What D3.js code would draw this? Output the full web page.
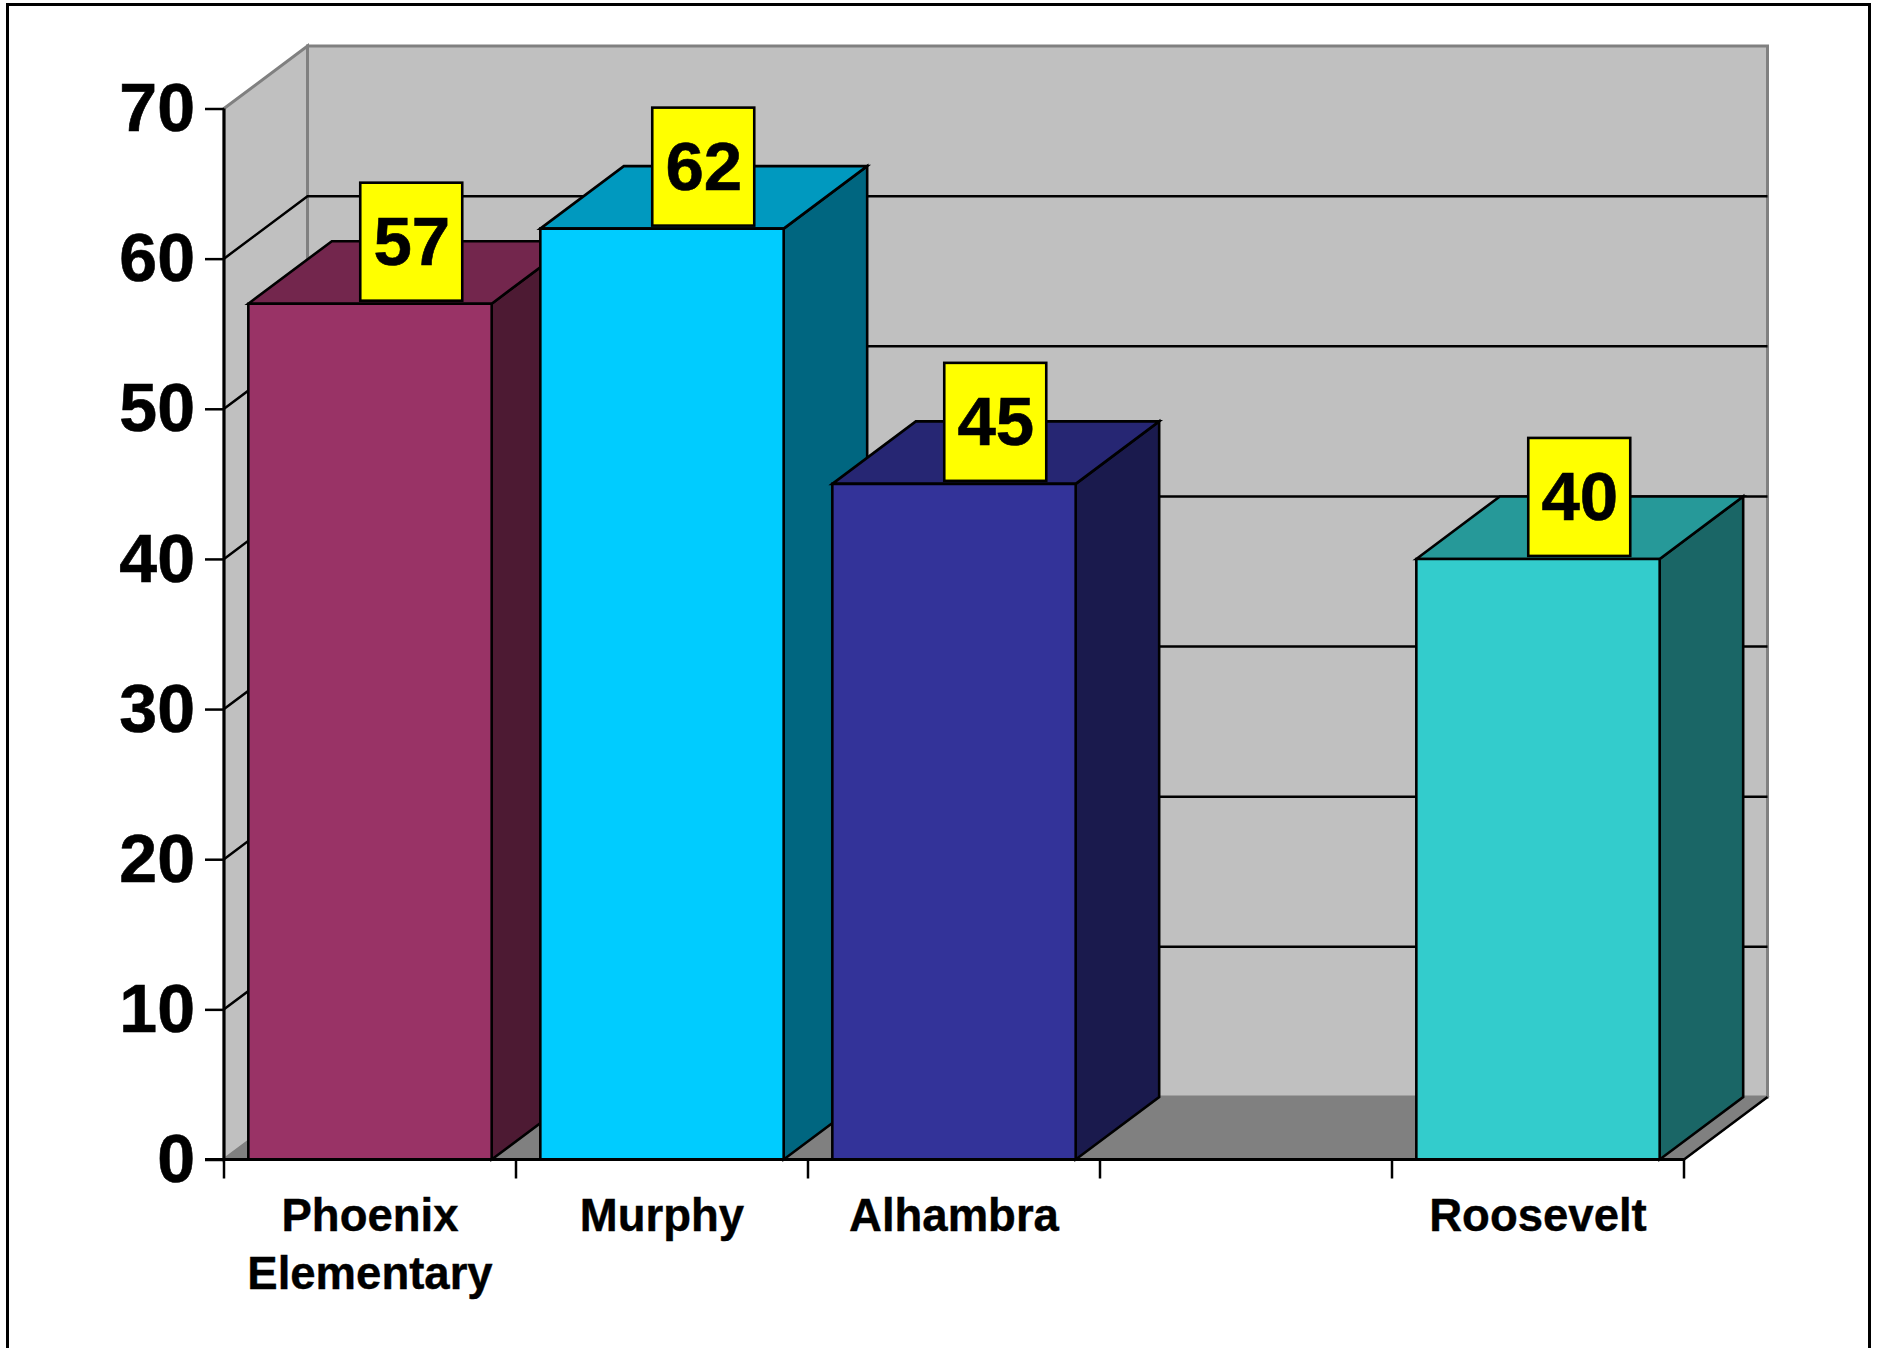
<!DOCTYPE html>
<html>
<head>
<meta charset="utf-8">
<script src="https://cdn.jsdelivr.net/npm/d3@7/dist/d3.min.js"></script>
<style>
  html, body { margin: 0; padding: 0; background: #fff; }
  svg { display: block; }
  text { font-family: "Liberation Sans", Arial, sans-serif; font-weight: 700; fill: #000; }
</style>
</head>
<body>
<svg id="chart" width="1877" height="1348"></svg>
<script>
// School names and their values; the fourth slot is an empty category.
const categories = ["Phoenix Elementary", "Murphy", "Alhambra", "", "Roosevelt"];
const values = [57, 62, 45, null, 40];
const frontColors = ["#993366", "#00CCFF", "#333399", null, "#33CCCC"];
const yTicks = [0, 10, 20, 30, 40, 50, 60, 70];

const svg = d3.select("#chart");

// Plot box on the front plane, and the offset of the back wall from it.
const left = 224, right = 1684, bottom = 1159.5, top70 = 108.5;
const depthX = 83.5, depthY = 62.5;

const x = d3.scaleBand().domain(d3.range(categories.length)).range([left, right]).paddingInner(0).paddingOuter(0);
const y = d3.scaleLinear().domain([0, 70]).range([bottom, top70]);
const barInset = x.bandwidth() * 0.0833;

const back = ([px, py]) => [px + depthX, py - depthY];
const poly = pts => d3.line()(pts) + "Z";

// Outer border, open along the bottom edge
svg.append("path")
  .attr("d", "M7.5,1348V4.5H1869.5V1348")
  .attr("fill", "none").attr("stroke", "#000").attr("stroke-width", 3);

// Walls and floor of the 3D box
const walls = svg.append("g");
const wallStroke = { stroke: "#808080", "stroke-width": 3 };
walls.append("path")
  .attr("d", poly([[left + depthX, y(70) - depthY], [right + depthX, y(70) - depthY], [right + depthX, y(0) - depthY], [left + depthX, y(0) - depthY]]))
  .attr("fill", "#C0C0C0").attr("stroke", wallStroke.stroke).attr("stroke-width", wallStroke["stroke-width"]);
walls.append("path")
  .attr("d", poly([[left, y(70)], [left + depthX, y(70) - depthY], [left + depthX, y(0) - depthY], [left, y(0)]]))
  .attr("fill", "#C0C0C0").attr("stroke", wallStroke.stroke).attr("stroke-width", wallStroke["stroke-width"]);
walls.append("path")
  .attr("d", poly([[left, y(0)], [left + depthX, y(0) - depthY], [right + depthX, y(0) - depthY], [right, y(0)]]))
  .attr("fill", "#808080").attr("stroke", wallStroke.stroke).attr("stroke-width", 1.5);

// Gridlines run across the side wall, then along the back wall
svg.append("g").selectAll("path")
  .data(yTicks.filter(t => t > 0 && t < 70))
  .join("path")
  .attr("d", t => d3.line()([[left, y(t)], back([left, y(t)]), back([right, y(t)])]))
  .attr("fill", "none").attr("stroke", "#000").attr("stroke-width", 2.5);

// Front edge of the side wall, right edge of the floor
svg.append("path")
  .attr("d", d3.line()([[right, y(0)], back([right, y(0)])]))
  .attr("fill", "none").attr("stroke", "#000").attr("stroke-width", 2.5);

// Value axis
const yAxis = d3.axisLeft(y).tickValues(yTicks).tickSize(19).tickPadding(10);
const yG = svg.append("g").attr("transform", `translate(${left},0)`).call(yAxis);
yG.selectAll("line").attr("stroke", "#000").attr("stroke-width", 2.5);
yG.select(".domain").attr("stroke", "#000").attr("stroke-width", 3).attr("d", `M0,${y(70)}V${y(0)}`);
yG.selectAll("text")
  .attr("dy", "0.325em")
  .style("font-family", '"Liberation Sans", Arial, sans-serif')
  .style("font-weight", 700).style("font-size", "68px").attr("fill", "#000")
  .attr("stroke", "#000").attr("stroke-width", 0.6);

// Bars: side face, top face, front face, each darkened from the front colour
const rows = categories.map((c, i) => ({ c, i, v: values[i], color: frontColors[i] })).filter(d => d.v !== null);
const bars = svg.append("g").selectAll("g").data(rows).join("g");

const frontPts = d => {
  const x0 = x(d.i) + barInset, x1 = x(d.i) + x.bandwidth() - barInset;
  return { x0, x1, yt: y(d.v), yb: y(0) };
};
const darker = (c, k) => { const r = d3.rgb(c); return d3.rgb(r.r * k, r.g * k, r.b * k).formatHex(); };

bars.append("path")
  .attr("d", d => { const p = frontPts(d); return poly([[p.x1, p.yt], back([p.x1, p.yt]), back([p.x1, p.yb]), [p.x1, p.yb]]); })
  .attr("fill", d => darker(d.color, 0.5)).attr("stroke", "#000").attr("stroke-width", 2.6);
bars.append("path")
  .attr("d", d => { const p = frontPts(d); return poly([[p.x0, p.yt], back([p.x0, p.yt]), back([p.x1, p.yt]), [p.x1, p.yt]]); })
  .attr("fill", d => darker(d.color, 0.75)).attr("stroke", "#000").attr("stroke-width", 2.6);
bars.append("path")
  .attr("d", d => { const p = frontPts(d); return poly([[p.x0, p.yt], [p.x1, p.yt], [p.x1, p.yb], [p.x0, p.yb]]); })
  .attr("fill", d => d.color).attr("stroke", "#000").attr("stroke-width", 2.6);

// Baseline along the front of the floor
svg.append("path")
  .attr("d", d3.line()([[left - 19, y(0)], [right, y(0)]]))
  .attr("fill", "none").attr("stroke", "#000").attr("stroke-width", 3);

// Category ticks at the band edges
svg.append("g").selectAll("line")
  .data(d3.range(categories.length + 1))
  .join("line")
  .attr("x1", i => left + i * x.step()).attr("x2", i => left + i * x.step())
  .attr("y1", y(0)).attr("y2", y(0) + 19)
  .attr("stroke", "#000").attr("stroke-width", 2.5);

// Category labels, two lines where the name has two words
const catLabels = svg.append("g").selectAll("text").data(rows).join("text")
  .attr("text-anchor", "middle")
  .attr("stroke", "#000").attr("stroke-width", 0.4)
  .style("font-size", "45.5px");
catLabels.each(function (d) {
  d3.select(this).selectAll("tspan")
    .data(d.c.split(" "))
    .join("tspan")
    .attr("x", x(d.i) + x.bandwidth() / 2)
    .attr("y", (w, j) => 1231 + j * 57.5)
    .text(w => w);
});

// Yellow value tags
const tagW = 102, tagH = 118;
const tags = svg.append("g").selectAll("g").data(rows).join("g")
  .attr("transform", d => `translate(${x(d.i) + x.bandwidth() / 2 + depthX / 2 - 0.5},${y(d.v) - 3})`);
tags.append("rect")
  .attr("x", -tagW / 2).attr("y", -tagH).attr("width", tagW).attr("height", tagH)
  .attr("fill", "#FFFF00").attr("stroke", "#000").attr("stroke-width", 2.6);
tags.append("text")
  .attr("text-anchor", "middle").attr("x", 0.5).attr("y", -36)
  .attr("stroke", "#000").attr("stroke-width", 0.6)
  .style("font-size", "69px")
  .text(d => d.v);
</script>
</body>
</html>
